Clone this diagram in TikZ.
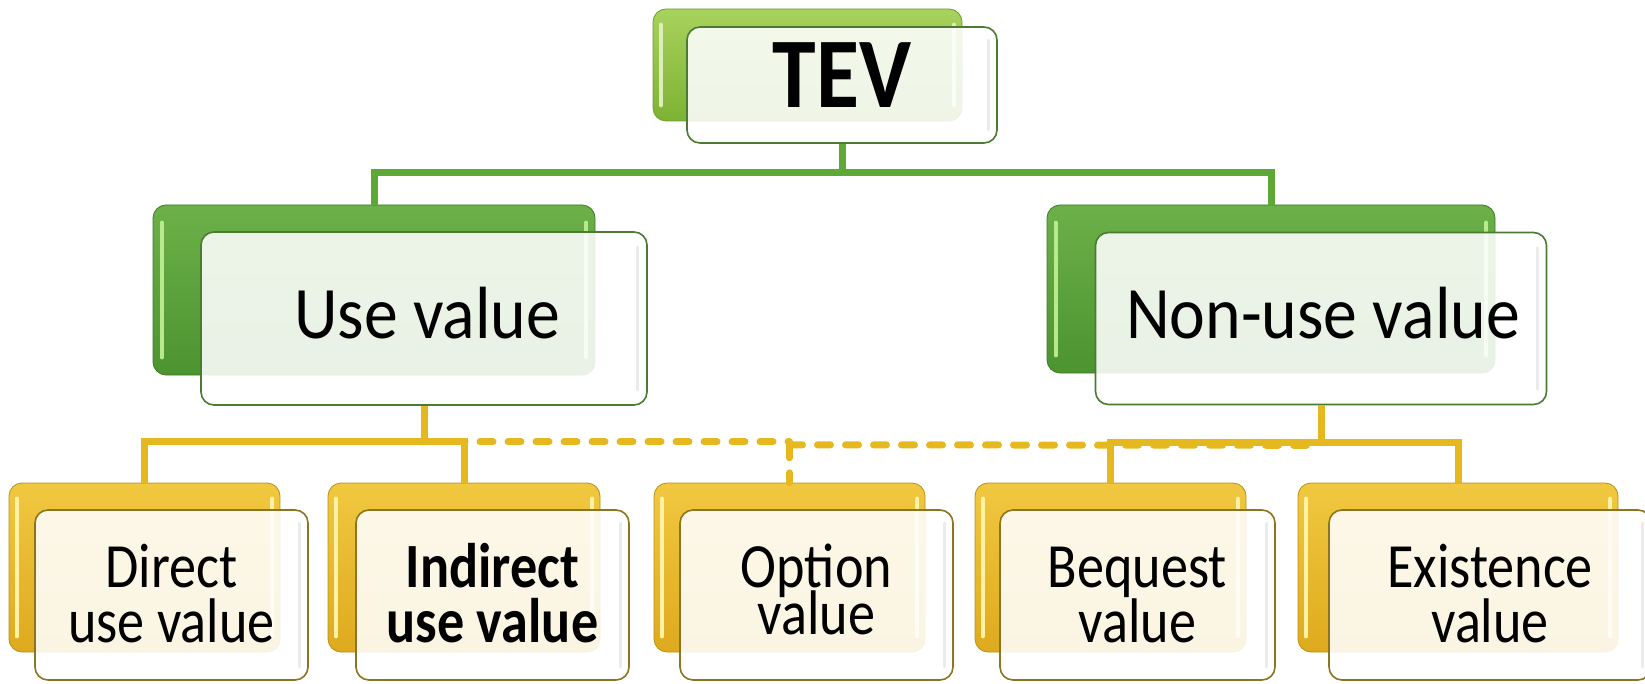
\documentclass[tikz,border=0pt]{standalone}
\usepackage{fontspec}
\setmainfont{Carlito}
\newfontfamily\headfont[FakeStretch=0.88]{Carlito}
\newfontfamily\midfont[FakeStretch=0.915]{Carlito}
\newfontfamily\lowfont[FakeStretch=0.86]{Carlito}
% let stacked label lines sit closer than their glyph boxes allow
\newcommand\tightlines{\lineskiplimit=-60pt\relax}

\definecolor{limeTop}{HTML}{A8D25C}
\definecolor{limeBot}{HTML}{7DB234}
\definecolor{limeEdge}{HTML}{6E9E2C}
\definecolor{grnTop}{HTML}{6CB048}
\definecolor{grnBot}{HTML}{4C9430}
\definecolor{grnEdge}{HTML}{3E7A26}
\definecolor{grnHi}{HTML}{B6EA8C}
\definecolor{grnFrame}{HTML}{4A7A34}
\definecolor{grnLine}{HTML}{5EA836}
\definecolor{gldTop}{HTML}{F0C840}
\definecolor{gldBot}{HTML}{DEAA1E}
\definecolor{gldEdge}{HTML}{B8901A}
\definecolor{gldHi}{HTML}{FFF2A6}
\definecolor{gldFrame}{HTML}{8C7420}
\definecolor{gldLine}{HTML}{E6B820}

\tikzset{
  backbox/.style={rectangle, rounded corners=13pt, inner sep=0pt, line width=0.8pt},
  limeback/.style={backbox, draw=limeEdge, top color=limeTop, bottom color=limeBot},
  grnback/.style={backbox, draw=grnEdge, top color=grnTop, bottom color=grnBot},
  gldback/.style={backbox, draw=gldEdge, top color=gldTop, bottom color=gldBot},
  frontbox/.style={rectangle, rounded corners=13pt, inner sep=0pt, line width=1.6pt,
    fill=white, fill opacity=0.88},
  grnfront/.style={frontbox, draw=grnFrame},
  gldfront/.style={frontbox, draw=gldFrame},
  glint/.style={line width=4pt, line cap=round},
  shade in/.style={line width=3pt, line cap=round, draw=black!8},
  gline/.style={draw=grnLine, line width=7pt},
  yline/.style={draw=gldLine, line width=7pt},
  ydash/.style={draw=gldLine, line width=7pt, line cap=round, dash pattern=on 13pt off 15pt},
  headtxt/.style={anchor=base, inner sep=0pt, font=\headfont\bfseries\fontsize{100}{100}\selectfont},
  midtxt/.style={anchor=base, inner sep=0pt, font=\midfont\fontsize{74}{74}\selectfont},
  lowtxt/.style={anchor=base, inner sep=0pt, align=center,
    font=\lowfont\fontsize{63}{55}\selectfont\tightlines},
  lowbold/.style={lowtxt, font=\lowfont\bfseries\fontsize{63}{55}\selectfont\tightlines},
}

\begin{document}
\begin{tikzpicture}[x=1pt, y=-1pt]
\useasboundingbox (0,0) rectangle (1645,684);

% ---- top level
\node[limeback, minimum width=309, minimum height=112] (tevB) at (807.5,65) {};
\draw[glint, draw=limeTop!40!white] ([xshift=8,yshift=-16]tevB.north west) -- ([xshift=8,yshift=16]tevB.south west);
\draw[glint, draw=limeTop!40!white] ([xshift=-8,yshift=-16]tevB.north east) -- ([xshift=-8,yshift=16]tevB.south east);
\node[grnfront, minimum width=310, minimum height=116] (tevF) at (842,85) {};
\draw[shade in] ([xshift=-9,yshift=-14]tevF.north east) -- ([xshift=-9,yshift=14]tevF.south east);
\node[headtxt] (tevT) at (842,108) {TEV};

% ---- middle level
\node[grnback, minimum width=442, minimum height=170] (useB) at (374,290) {};
\draw[glint, draw=grnHi] ([xshift=9,yshift=-18]useB.north west) -- ([xshift=9,yshift=18]useB.south west);
\draw[glint, draw=grnHi] ([xshift=-9,yshift=-18]useB.north east) -- ([xshift=-9,yshift=18]useB.south east);
\node[grnfront, minimum width=446, minimum height=173] (useF) at (424,318.5) {};
\draw[shade in] ([xshift=-10,yshift=-16]useF.north east) -- ([xshift=-10,yshift=16]useF.south east);
\node[midtxt] (useT) at (427,338) {Use value};

\node[grnback, minimum width=448, minimum height=168] (nonB) at (1271,289) {};
\draw[glint, draw=grnHi] ([xshift=9,yshift=-18]nonB.north west) -- ([xshift=9,yshift=18]nonB.south west);
\draw[glint, draw=grnHi] ([xshift=-9,yshift=-18]nonB.north east) -- ([xshift=-9,yshift=18]nonB.south east);
\node[grnfront, minimum width=451, minimum height=172] (nonF) at (1321,318.5) {};
\draw[shade in] ([xshift=-10,yshift=-16]nonF.north east) -- ([xshift=-10,yshift=16]nonF.south east);
\node[midtxt] (nonT) at (1323,338) {Non-use value};

% ---- bottom level
\foreach \nm/\bx/\bw/\fx/\fw in {dir/144.5/271/171.5/273, ind/464/272/492.5/273,
    opt/789.5/271/816.5/273, beq/1110.5/271/1137.5/275, exi/1458/320/1490/322}{
  \node[gldback, minimum width=\bw, minimum height=169] (\nm B) at (\bx,567.5) {};
  \draw[glint, draw=gldHi] ([xshift=8,yshift=-16]\nm B.north west) -- ([xshift=8,yshift=16]\nm B.south west);
  \draw[glint, draw=gldHi] ([xshift=-8,yshift=-16]\nm B.north east) -- ([xshift=-8,yshift=16]\nm B.south east);
  \node[gldfront, minimum width=\fw, minimum height=170] (\nm F) at (\fx,595) {};
  \draw[shade in] ([xshift=-9,yshift=-14]\nm F.north east) -- ([xshift=-9,yshift=14]\nm F.south east);
}
% two-line labels, placed by the baseline of their last line
\node[lowtxt]  (dirT) at (171.5,642) {Direct\\use value};
\node[lowbold] (indT) at (492.5,642) {Indirect\\use value};
\node[lowtxt, font=\lowfont\fontsize{63}{47}\selectfont\tightlines] (optT) at (816.5,634) {Option\\value};
\node[lowtxt]  (beqT) at (1137.5,642) {Bequest\\value};
\node[lowtxt]  (exiT) at (1490,642) {Existence\\value};

% ---- connectors
\draw[gline] (tevF.south) -- ++(0,29) coordinate (jT);
\draw[gline] (useB.north) |- (jT) -| (nonB.north);

\draw[yline] (useF.south) -- ++(0,36) coordinate (jU);
\draw[yline] (nonF.south) -- ++(0,37) coordinate (jN);
\coordinate (jO) at (optB.north |- jU);
\draw[ydash] (jU) -- (jO);
\draw[ydash] ([yshift=-3]jO) -- ([yshift=-3]jN);
\draw[ydash] ([yshift=-3]jO) -- (optB.north);
\draw[yline] (dirB.north) |- (jU) -| (indB.north);
\draw[yline] (beqB.north) |- (jN) -| (exiB.north);
\end{tikzpicture}
\end{document}
